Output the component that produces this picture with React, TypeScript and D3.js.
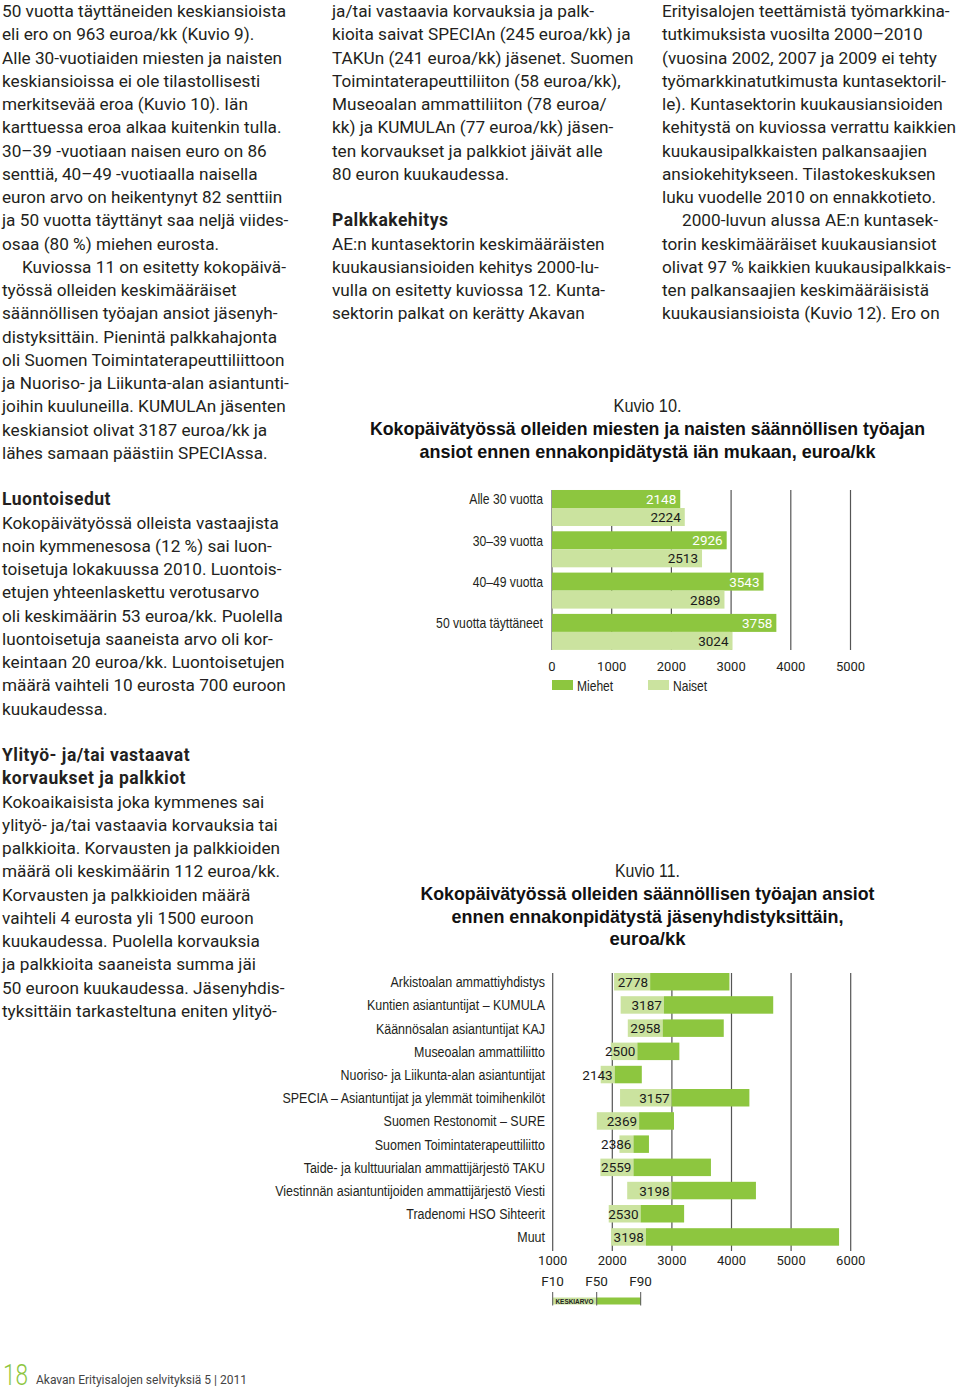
import React from 'react';
import * as d3 from 'd3';

// ---------- Data: Kuvio 10 ----------
const ageGroups = ['Alle 30 vuotta', '30–39 vuotta', '40–49 vuotta', '50 vuotta täyttäneet'];
const seriesNames = ['Miehet', 'Naiset'];
const menValues = [2148, 2926, 3543, 3758];
const womenValues = [2224, 2513, 2889, 3024];
const fig10Ticks = [0, 1000, 2000, 3000, 4000, 5000];

// ---------- Data: Kuvio 11 ----------
const unions = [
  'Arkistoalan ammattiyhdistys',
  'Kuntien asiantuntijat – KUMULA',
  'Käännösalan asiantuntijat KAJ',
  'Museoalan ammattiliitto',
  'Nuoriso- ja Liikunta-alan asiantuntijat',
  'SPECIA – Asiantuntijat ja ylemmät toimihenkilöt',
  'Suomen Restonomit – SURE',
  'Suomen Toimintaterapeuttiliitto',
  'Taide- ja kulttuurialan ammattijärjestö TAKU',
  'Viestinnän asiantuntijoiden ammattijärjestö Viesti',
  'Tradenomi HSO Sihteerit',
  'Muut',
];
const f10Values = [2030, 2140, 2260, 1975, 1805, 2130, 1740, 2120, 1800, 2250, 1940, 1980];
const f50Values = [2635, 2865, 2845, 2420, 2040, 2995, 2450, 2355, 2355, 2995, 2475, 2565];
const f90Values = [3965, 4700, 3870, 3125, 2495, 4300, 3035, 2615, 3655, 4410, 3205, 5805];
const meanValues = [2778, 3187, 2958, 2500, 2143, 3157, 2369, 2386, 2559, 3198, 2530, 3198];
const fig11Ticks = [1000, 2000, 3000, 4000, 5000, 6000];
const legendLabels = ['F10', 'F50', 'F90'];

// ---------- Body text ----------
const leftColumn = [
  '50 vuotta täyttäneiden keskiansioista',
  'eli ero on 963 euroa/kk (Kuvio 9).',
  'Alle 30-vuotiaiden miesten ja naisten',
  'keskiansioissa ei ole tilastollisesti',
  'merkitsevää eroa (Kuvio 10). Iän',
  'karttuessa eroa alkaa kuitenkin tulla.',
  '30–39 -vuotiaan naisen euro on 86',
  'senttiä, 40–49 -vuotiaalla naisella',
  'euron arvo on heikentynyt 82 senttiin',
  'ja 50 vuotta täyttänyt saa neljä viides-',
  'osaa (80 %) miehen eurosta.',
  '#Kuviossa 11 on esitetty kokopäivä-',
  'työssä olleiden keskimääräiset',
  'säännöllisen työajan ansiot jäsenyh-',
  'distyksittäin. Pienintä palkkahajonta',
  'oli Suomen Toimintaterapeuttiliittoon',
  'ja Nuoriso- ja Liikunta-alan asiantunti-',
  'joihin kuuluneilla. KUMULAn jäsenten',
  'keskiansiot olivat 3187 euroa/kk ja',
  'lähes samaan päästiin SPECIAssa.',
  '',
  '*Luontoisedut',
  'Kokopäivätyössä olleista vastaajista',
  'noin kymmenesosa (12 %) sai luon-',
  'toisetuja lokakuussa 2010. Luontois-',
  'etujen yhteenlaskettu verotusarvo',
  'oli keskimäärin 53 euroa/kk. Puolella',
  'luontoisetuja saaneista arvo oli kor-',
  'keintaan 20 euroa/kk. Luontoisetujen',
  'määrä vaihteli 10 eurosta 700 euroon',
  'kuukaudessa.',
  '',
  '*Ylityö- ja/tai vastaavat',
  '*korvaukset ja palkkiot',
  'Kokoaikaisista joka kymmenes sai',
  'ylityö- ja/tai vastaavia korvauksia tai',
  'palkkioita. Korvausten ja palkkioiden',
  'määrä oli keskimäärin 112 euroa/kk.',
  'Korvausten ja palkkioiden määrä',
  'vaihteli 4 eurosta yli 1500 euroon',
  'kuukaudessa. Puolella korvauksia',
  'ja palkkioita saaneista summa jäi',
  '50 euroon kuukaudessa. Jäsenyhdis-',
  'tyksittäin tarkasteltuna eniten ylityö-',
];
const middleColumn = [
  'ja/tai vastaavia korvauksia ja palk-',
  'kioita saivat SPECIAn (245 euroa/kk) ja',
  'TAKUn (241 euroa/kk) jäsenet. Suomen',
  'Toimintaterapeuttiliiton (58 euroa/kk),',
  'Museoalan ammattiliiton (78 euroa/',
  'kk) ja KUMULAn (77 euroa/kk) jäsen-',
  'ten korvaukset ja palkkiot jäivät alle',
  '80 euron kuukaudessa.',
  '',
  '*Palkkakehitys',
  'AE:n kuntasektorin keskimääräisten',
  'kuukausiansioiden kehitys 2000-lu-',
  'vulla on esitetty kuviossa 12. Kunta-',
  'sektorin palkat on kerätty Akavan',
];
const rightColumn = [
  'Erityisalojen teettämistä työmarkkina-',
  'tutkimuksista vuosilta 2000–2010',
  '(vuosina 2002, 2007 ja 2009 ei tehty',
  'työmarkkinatutkimusta kuntasektoril-',
  'le). Kuntasektorin kuukausiansioiden',
  'kehitystä on kuviossa verrattu kaikkien',
  'kuukausipalkkaisten palkansaajien',
  'ansiokehitykseen. Tilastokeskuksen',
  'luku vuodelle 2010 on ennakkotieto.',
  '#2000-luvun alussa AE:n kuntasek-',
  'torin keskimääräiset kuukausiansiot',
  'olivat 97 % kaikkien kuukausipalkkais-',
  'ten palkansaajien keskimääräisistä',
  'kuukausiansioista (Kuvio 12). Ero on',
];

const DARK = '#8dc63f';
const LIGHT = '#cbe39f';
const GRID = '#555555';
const TEXT = '#231f20';
const BODY_FONT = 'Roboto, "Liberation Sans", sans-serif';
const COND_FONT = '"Liberation Sans", Arial, sans-serif';

function CondText({ x, y, k, anchor = 'start', children, ...rest }: any) {
  return (
    <text transform={`translate(${x},${y}) scale(${k},1)`} textAnchor={anchor} fontFamily={COND_FONT} {...rest}>
      {children}
    </text>
  );
}

function TitleLine({ y, w, bold = true, children }: any) {
  return (
    <text x={647.5} y={y} textAnchor="middle" fontFamily={COND_FONT} fontWeight={bold ? 700 : 400}
      fontSize={bold ? 18.2 : 18} fill={bold ? '#111' : TEXT} textLength={w} lengthAdjust="spacingAndGlyphs">
      {children}
    </text>
  );
}

function Column({ lines, x, y0, lh }: { lines: string[]; x: number; y0: number; lh: number }) {
  return (
    <g fontFamily={BODY_FONT} fontSize={17.2} fill={TEXT}>
      {lines.map((l, i) => {
        if (!l) return null;
        let t = l;
        let bold = false;
        let dx = 0;
        if (t.startsWith('*')) { bold = true; t = t.slice(1); }
        if (t.startsWith('#')) { dx = 20; t = t.slice(1); }
        return (
          <text key={i} x={x + dx} y={y0 + i * lh} fontWeight={bold ? 700 : 400}
            fontSize={bold ? 17.5 : 17.2} letterSpacing={bold ? 0.5 : 0}>{t}</text>
        );
      })}
    </g>
  );
}

function Figure10() {
  const x = d3.scaleLinear().domain([0, 5000]).range([552, 850.5]);
  const y = d3.scaleBand<string>().domain(ageGroups).range([487.35, 652.55]).paddingInner(0.128).paddingOuter(0.064);
  const sub = d3.scaleBand<string>().domain(seriesNames).range([0, y.bandwidth()]);
  const seriesVals = [menValues, womenValues];
  const colors = [DARK, LIGHT];
  const top = 490, bottom = 650;
  return (
    <g>
      <TitleLine y={412} w={68} bold={false}>Kuvio 10.</TitleLine>
      <TitleLine y={435} w={555}>Kokopäivätyössä olleiden miesten ja naisten säännöllisen työajan</TitleLine>
      <TitleLine y={457.5} w={456}>ansiot ennen ennakonpidätystä iän mukaan, euroa/kk</TitleLine>
      {fig10Ticks.map((t) => (
        <line key={t} x1={x(t)} x2={x(t)} y1={top} y2={bottom} stroke={GRID} strokeWidth={1.2} />
      ))}
      {ageGroups.map((g, gi) => (
        <g key={g}>
          {seriesNames.map((s, si) => {
            const v = seriesVals[si][gi];
            const by = (y(g) as number) + (sub(s) as number);
            return (
              <g key={s}>
                <rect x={x(0)} y={by} width={x(v) - x(0)} height={sub.bandwidth()} fill={colors[si]} />
                <text x={x(v) - 4} y={by + sub.bandwidth() / 2 + 5} textAnchor="end" fontFamily={BODY_FONT} fontSize={13.5} fill={si === 0 ? '#ffffff' : '#1a1a1a'}>{v}</text>
              </g>
            );
          })}
          <CondText x={543} y={(y(g) as number) + sub.bandwidth() / 2 + 5.5} k={0.84} anchor="end" fontSize={14.5} fill={TEXT}>{g}</CondText>
        </g>
      ))}
      {fig10Ticks.map((t) => (
        <text key={t} x={x(t)} y={671} textAnchor="middle" fontFamily={BODY_FONT} fontSize={13} fill={TEXT}>{t}</text>
      ))}
      {seriesNames.map((s, si) => (
        <g key={s}>
          <rect x={552 + si * 96} y={680} width={21} height={10} fill={colors[si]} />
          <CondText x={577 + si * 96} y={690.5} k={0.86} fontSize={14} fill={TEXT}>{s}</CondText>
        </g>
      ))}
    </g>
  );
}

function Figure11() {
  const x = d3.scaleLinear().domain([1000, 6000]).range([552.7, 850.7]);
  const y = d3.scaleBand<string>().domain(unions).range([970.15, 1248.55]).paddingInner(0.246).paddingOuter(0.123);
  const top = 973, bottom = 1251;
  return (
    <g>
      <TitleLine y={877.3} w={65} bold={false}>Kuvio 11.</TitleLine>
      <TitleLine y={900} w={454}>Kokopäivätyössä olleiden säännöllisen työajan ansiot</TitleLine>
      <TitleLine y={922.5} w={392}>ennen ennakonpidätystä jäsenyhdistyksittäin,</TitleLine>
      <TitleLine y={945} w={76}>euroa/kk</TitleLine>
      {fig11Ticks.map((t) => (
        <line key={t} x1={x(t)} x2={x(t)} y1={top} y2={bottom} stroke={GRID} strokeWidth={1.2} />
      ))}
      {unions.map((u, i) => {
        const by = y(u) as number;
        const h = y.bandwidth();
        return (
          <g key={u}>
            <rect x={x(f10Values[i])} y={by} width={x(f50Values[i]) - x(f10Values[i])} height={h} fill={LIGHT} />
            <rect x={x(f50Values[i])} y={by} width={x(f90Values[i]) - x(f50Values[i])} height={h} fill={DARK} />
            <text x={x(f50Values[i]) - 2} y={by + h / 2 + 5} textAnchor="end" fontFamily={BODY_FONT} fontSize={13.5} fill="#1a1a1a">{meanValues[i]}</text>
            <CondText x={545} y={by + h / 2 + 5.5} k={0.86} anchor="end" fontSize={14.5} fill={TEXT}>{u}</CondText>
          </g>
        );
      })}
      {fig11Ticks.map((t) => (
        <text key={t} x={x(t)} y={1265} textAnchor="middle" fontFamily={BODY_FONT} fontSize={13} fill={TEXT}>{t}</text>
      ))}
      {legendLabels.map((l, i) => (
        <text key={l} x={552.5 + i * 44} y={1286} textAnchor="middle" fontFamily={BODY_FONT} fontSize={13.5} fill={TEXT}>{l}</text>
      ))}
      <rect x={552.7} y={1297.5} width={44} height={7} fill={LIGHT} />
      <rect x={596.7} y={1297.5} width={44} height={7} fill={DARK} />
      {[0, 1, 2].map((i) => (
        <line key={i} x1={552.7 + i * 44} x2={552.7 + i * 44} y1={1292} y2={1305.5} stroke={GRID} strokeWidth={1} />
      ))}
      <CondText x={555.5} y={1304.3} k={0.8} fontWeight={700} fontSize={8} fill="#222">KESKIARVO</CondText>
    </g>
  );
}

export default function App() {
  return (
    <svg width={960} height={1388} viewBox="0 0 960 1388" style={{ position: 'absolute', left: 0, top: 0, background: '#fff' }}>
      <rect width={960} height={1388} fill="#fff" />
      <Column lines={leftColumn} x={2} y0={17} lh={23.25} />
      <Column lines={middleColumn} x={332} y0={17} lh={23.25} />
      <Column lines={rightColumn} x={662} y0={17} lh={23.25} />
      <Figure10 />
      <Figure11 />
      <text x={3} y={1385} fontFamily={BODY_FONT} fontWeight={300} fontSize={29} fill={DARK} textLength={25} lengthAdjust="spacingAndGlyphs">18</text>
      <text x={36} y={1384} fontFamily={BODY_FONT} fontSize={12} fill="#444">Akavan Erityisalojen selvityksiä 5 | 2011</text>
    </svg>
  );
}
